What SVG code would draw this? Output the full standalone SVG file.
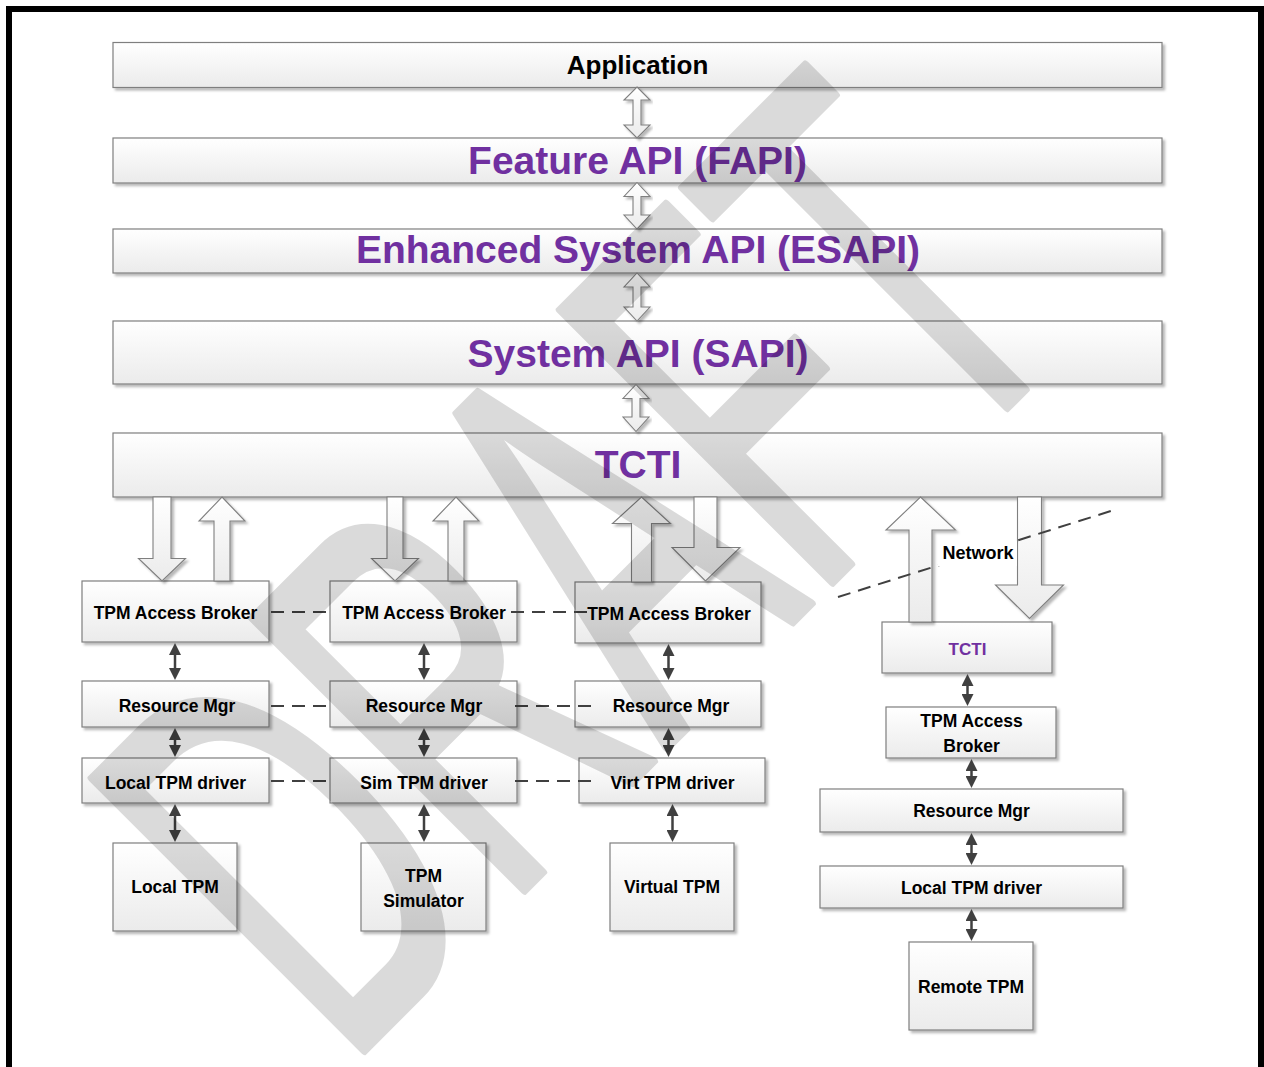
<svg xmlns="http://www.w3.org/2000/svg" width="1264" height="1067" viewBox="0 0 1264 1067">
<defs>
<linearGradient id="gBox" x1="0" y1="0" x2="0" y2="1"><stop offset="0" stop-color="#ffffff"/><stop offset="1" stop-color="#ebebeb"/></linearGradient>
<filter id="sh" x="-5%" y="-10%" width="115%" height="140%"><feDropShadow dx="2.5" dy="2.5" stdDeviation="0.8" flood-color="#000" flood-opacity="0.28"/></filter>
<marker id="ah" viewBox="0 0 12 12" refX="2" refY="6" markerWidth="12" markerHeight="12" markerUnits="userSpaceOnUse" orient="auto-start-reverse"><path d="M0,0 L12,6 L0,12 z" fill="#404040"/></marker>
</defs>
<style>
.box{fill:url(#gBox);stroke:#7f7f7f;stroke-width:1.2;filter:url(#sh)}
.blk{fill:url(#gBox);stroke:#7f7f7f;stroke-width:1.1;filter:url(#sh)}
.t{font-family:"Liberation Sans",Arial,sans-serif;font-weight:bold;text-anchor:middle;fill:#000}
.s{font-size:17.5px}
.p{fill:#7030a0}
.big{font-size:39px}
.c{stroke:#404040;stroke-width:2.5;fill:none;marker-start:url(#ah);marker-end:url(#ah)}
.d{stroke:#404040;stroke-width:2;fill:none;stroke-dasharray:13 8}
</style>
<rect x="0" y="0" width="1264" height="1067" fill="#fff"/>
<rect x="9" y="9" width="1252" height="1100" fill="none" stroke="#000" stroke-width="6"/>

<g id="application"><rect class="box" x="113" y="42.5" width="1049" height="45"/><text class="t" x="637.5" y="73.5" font-size="26">Application</text></g>
<g id="fapi"><rect class="box" x="113" y="138" width="1049" height="45"/><text class="t p big" x="637.5" y="173.5">Feature API (FAPI)</text></g>
<g id="esapi"><rect class="box" x="113" y="229" width="1049" height="44"/><text class="t p big" x="638" y="263">Enhanced System API (ESAPI)</text></g>
<g id="sapi"><rect class="box" x="113" y="321" width="1049" height="63"/><text class="t p big" x="638" y="366.5">System API (SAPI)</text></g>
<g id="tcti"><rect class="box" x="113" y="433" width="1049" height="64"/><text class="t p big" x="638" y="477.5">TCTI</text></g>

<g id="tab1"><rect class="box" x="82" y="581" width="187" height="61"/><text class="t s" x="175.5" y="619">TPM Access Broker</text></g>
<g id="rm1"><rect class="box" x="82" y="681" width="187" height="46"/><text class="t s" x="177" y="712">Resource Mgr</text></g>
<g id="ltd1"><rect class="box" x="82" y="758" width="187" height="45"/><text class="t s" x="175.5" y="788.5">Local TPM driver</text></g>
<g id="ltpm"><rect class="box" x="113" y="843" width="124" height="88"/><text class="t s" x="175" y="893">Local TPM</text></g>

<g id="tab2"><rect class="box" x="330" y="581" width="187" height="61"/><text class="t s" x="424" y="619">TPM Access Broker</text></g>
<g id="rm2"><rect class="box" x="330" y="681" width="187" height="46"/><text class="t s" x="424" y="712">Resource Mgr</text></g>
<g id="std"><rect class="box" x="330" y="758" width="187" height="45"/><text class="t s" x="424" y="788.5">Sim TPM driver</text></g>
<g id="tsim"><rect class="box" x="361" y="843" width="125" height="88"/><text class="t s" x="423.5" y="882">TPM</text><text class="t s" x="423.5" y="907">Simulator</text></g>

<g id="tab3"><rect class="box" x="575" y="582" width="186" height="61"/><text class="t s" x="669" y="619.5">TPM Access Broker</text></g>
<g id="rm3"><rect class="box" x="575" y="681" width="186" height="46"/><text class="t s" x="671" y="712">Resource Mgr</text></g>
<g id="vtd"><rect class="box" x="579" y="758" width="186" height="45"/><text class="t s" x="672.5" y="788.5">Virt TPM driver</text></g>
<g id="vtpm"><rect class="box" x="610" y="843" width="124" height="88"/><text class="t s" x="672" y="893">Virtual TPM</text></g>

<g id="tcti2"><rect class="box" x="882" y="622" width="170" height="51"/><text class="t p" x="967.5" y="654.5" font-size="17">TCTI</text></g>
<g id="tab4"><rect class="box" x="886" y="707" width="170" height="51"/><text class="t s" x="971.5" y="727">TPM Access</text><text class="t s" x="971.5" y="752">Broker</text></g>
<g id="rm4"><rect class="box" x="820" y="789" width="303" height="43"/><text class="t s" x="971.5" y="817">Resource Mgr</text></g>
<g id="ltd4"><rect class="box" x="820" y="866" width="303" height="42"/><text class="t s" x="971.5" y="893.5">Local TPM driver</text></g>
<g id="rtpm"><rect class="box" x="909" y="942" width="124" height="88"/><text class="t s" x="971" y="993">Remote TPM</text></g>

<g id="connectors">
<path class="blk" d="M637,87 L650,100 L641,100 L641,125 L650,125 L637,138 L624,125 L633,125 L633,100 L624,100 Z"/>
<path class="blk" d="M637,182.5 L650,196.5 L641,196.5 L641,215 L650,215 L637,229 L624,215 L633,215 L633,196.5 L624,196.5 Z"/>
<path class="blk" d="M637,273 L650,287 L641,287 L641,307 L650,307 L637,321 L624,307 L633,307 L633,287 L624,287 Z"/>
<path class="blk" d="M636,384.5 L649,398.5 L640,398.5 L640,417 L649,417 L636,431.5 L623,417 L632,417 L632,398.5 L623,398.5 Z"/>

<path class="blk" d="M153,497 L171,497 L171,558.5 L185.5,558.5 L162,581 L138.5,558.5 L153,558.5 Z"/>
<path class="blk" d="M222,497 L245,521 L230,521 L230,581 L214,581 L214,521 L199,521 Z"/>
<path class="blk" d="M387,497 L403,497 L403,558.5 L418.5,558.5 L395,581 L371.5,558.5 L387,558.5 Z"/>
<path class="blk" d="M456,497 L479,521 L464,521 L464,581 L448,581 L448,521 L433,521 Z"/>
<path class="blk" d="M641.5,497 L670.5,523.5 L651.5,523.5 L651.5,582 L631.5,582 L631.5,523.5 L612.5,523.5 Z"/>
<path class="blk" d="M694,497 L717,497 L717,547.5 L740,547.5 L705.5,581 L672,547.5 L694,547.5 Z"/>
<path class="blk" d="M920.5,497 L955.5,530 L932,530 L932,622 L909,622 L909,530 L886,530 Z"/>
<path class="blk" d="M1017.5,497 L1041.5,497 L1041.5,585 L1063.5,585 L1029.5,618.5 L995.5,585 L1017.5,585 Z"/>

<line class="c" x1="175" y1="653" x2="175" y2="670"/>
<line class="c" x1="175" y1="738" x2="175" y2="747"/>
<line class="c" x1="175" y1="814" x2="175" y2="832"/>
<line class="c" x1="424" y1="653" x2="424" y2="670"/>
<line class="c" x1="424" y1="738" x2="424" y2="747"/>
<line class="c" x1="424" y1="814" x2="424" y2="832"/>
<line class="c" x1="668.5" y1="654" x2="668.5" y2="670"/>
<line class="c" x1="668.5" y1="738" x2="668.5" y2="747"/>
<line class="c" x1="672.5" y1="814" x2="672.5" y2="832"/>
<line class="c" x1="967.5" y1="684" x2="967.5" y2="696"/>
<line class="c" x1="971.5" y1="769" x2="971.5" y2="778"/>
<line class="c" x1="971.5" y1="843" x2="971.5" y2="855"/>
<line class="c" x1="971.5" y1="919" x2="971.5" y2="931"/>

<line class="d" x1="271" y1="612" x2="329" y2="612"/>
<line class="d" x1="511" y1="612" x2="593" y2="612"/>
<line class="d" x1="271" y1="706" x2="329" y2="706"/>
<line class="d" x1="515" y1="706" x2="598" y2="706"/>
<line class="d" x1="271" y1="781" x2="329" y2="781"/>
<line class="d" x1="515" y1="781" x2="598" y2="781"/>
<line class="d" x1="838" y1="597" x2="1114" y2="510" stroke-dasharray="14 8"/>
</g>

<g id="network"><rect x="938" y="541" width="79" height="25" fill="#fff"/><text class="t" x="978" y="559" font-size="18">Network</text></g>

<g id="watermark" opacity="0.14"><text transform="translate(345,1070) rotate(-45) scale(0.56,1)" font-family="Liberation Sans, sans-serif" font-size="560" fill="#000" stroke="#000" stroke-width="8" stroke-linejoin="round">DRAFT</text></g>
</svg>
